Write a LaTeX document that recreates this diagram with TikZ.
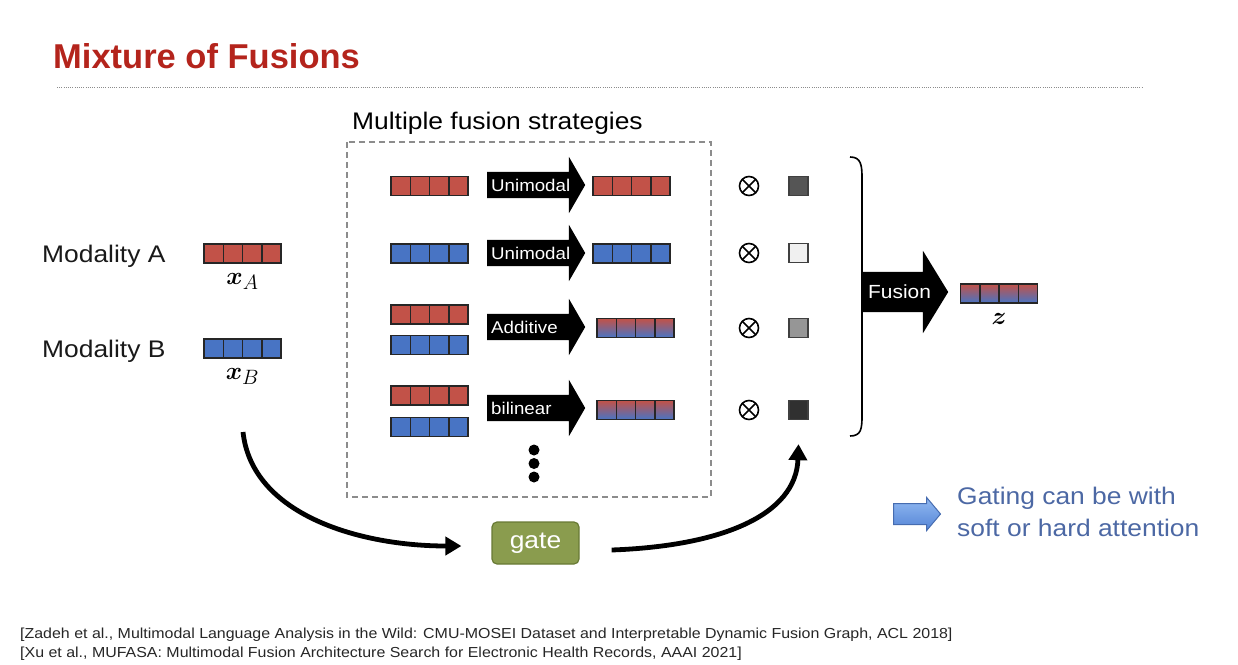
\documentclass[tikz,border=0pt]{standalone}
\usepackage{amsmath}
\usepackage{fontspec}
\setmainfont{Liberation Sans}[FakeStretch=1.1]
\newfontfamily\titlefont{Liberation Sans}
\usetikzlibrary{positioning}
\usetikzlibrary{shapes.arrows}
\usetikzlibrary{arrows.meta}
\tikzset{>=latex}

\definecolor{titlered}{RGB}{180,36,28}
\definecolor{cellred}{RGB}{194,82,72}
\definecolor{cellblue}{RGB}{72,116,196}
\definecolor{wone}{RGB}{85,85,85}
\definecolor{wtwo}{RGB}{240,240,240}
\definecolor{wthree}{RGB}{150,150,150}
\definecolor{wfour}{RGB}{48,48,48}
\definecolor{gatefill}{RGB}{138,156,78}
\definecolor{gateedge}{RGB}{104,122,52}
\definecolor{hintblue}{RGB}{76,104,164}
\definecolor{hintlight}{RGB}{146,186,242}
\definecolor{hintdark}{RGB}{84,132,214}
\definecolor{hintedge}{RGB}{70,108,176}

\tikzset{%
  % a vector of four cells
  vec/.style={draw=black!85, line width=1.5pt, minimum width=77pt, minimum height=19pt, inner sep=0pt,
    path picture={\foreach \k in {1,2,3}
      \draw[black!85, line width=1.5pt] ([xshift=\k*19.25pt]path picture bounding box.south west) -- ([xshift=\k*19.25pt]path picture bounding box.north west);}},
  redvec/.style={vec, fill=cellred},
  bluevec/.style={vec, fill=cellblue},
  mixvec/.style={vec, top color=cellred, bottom color=cellblue},
  veclabel/.style={inner sep=0pt, font=\fontsize{28}{30}\selectfont},
  modtext/.style={anchor=base west, inner sep=0pt, text=black!90, font=\fontsize{24}{28}\selectfont},
  % the black fusion arrows
  bigarrow/.style={single arrow, fill=black, inner xsep=0pt, inner ysep=13pt, minimum height=98pt,
    single arrow head extend=15pt, single arrow tip angle=120, anchor=tail},
  arrowtext/.style={anchor=west, inner sep=0pt, text=white, font=\fontsize{17}{19}\selectfont},
  otimes/.style={circle, draw=black, line width=1.6pt, minimum size=19pt, inner sep=0pt,
    path picture={\draw[line width=1.6pt] (path picture bounding box.north west) -- (path picture bounding box.south east)
      (path picture bounding box.north east) -- (path picture bounding box.south west);}},
  gatesq/.style={draw=black!75, line width=1.3pt, minimum size=19pt, inner sep=0pt},
  gatebox/.style={rounded corners=5pt, fill=gatefill, draw=gateedge, line width=1.2pt, text=white,
    minimum width=87pt, minimum height=42pt, inner sep=0pt, font=\fontsize{24}{26}\selectfont},
  curvearrow/.style={line width=4.8pt, -{Triangle[length=16pt,width=18pt]}},
  hintarrow/.style={single arrow, draw=hintedge, line width=1pt, top color=hintlight, bottom color=hintdark,
    inner xsep=0pt, inner ysep=10pt, minimum height=47pt, single arrow head extend=6pt,
    single arrow tip angle=100, anchor=tail},
  reftext/.style={anchor=base west, inner sep=0pt, text=black!85, font=\fontsize{14.5}{16}\selectfont},
}

\begin{document}
\begin{tikzpicture}[x=1pt, y=-1pt]
  \useasboundingbox (0,0) rectangle (1238,664);

  % title and dotted rule
  \node[anchor=base west, inner sep=0pt, text=titlered, font=\titlefont\bfseries\fontsize{34.5}{40}\selectfont] (title) at (53,68) {Mixture of Fusions};
  \coordinate (ruleL) at (57,87);
  \coordinate (ruleR) at (1143,87);
  \draw[black!45, line width=0.8pt, dash pattern=on 1pt off 1.2pt] (ruleL) -- (ruleR);

  % the two modalities
  \node[modtext] (moda) at (42,262) {Modality A};
  \node[modtext] (modb) at (42,357) {Modality B};
  \node[redvec] (xa) at (242.5,253.5) {};
  \node[bluevec] (xb) at (242.5,348.5) {};
  \node[veclabel, below=9pt of xa] (la) {$\boldsymbol{x}_A$};
  \node[veclabel, below=9pt of xb] (lb) {$\boldsymbol{x}_B$};

  % dashed box of strategies
  \node[anchor=base west, inner sep=0pt, font=\fontsize{24}{26}\selectfont] (strat) at (352,129) {Multiple fusion strategies};
  \draw[black!45, line width=1.5pt, dash pattern=on 6pt off 4pt] (347,142) rectangle (711,497);

  % unimodal A
  \node[redvec] (in1) at (429.5,186) {};
  \node[bigarrow] (f1) at (487,185) {};
  \node[arrowtext] (t1) at ([xshift=4pt]f1.tail) {Unimodal};
  \node[redvec] (out1) at (631.5,186) {};

  % unimodal B
  \node[bluevec] (in2) at (429.5,253.5) {};
  \node[bigarrow] (f2) at (487,253) {};
  \node[arrowtext] (t2) at ([xshift=4pt]f2.tail) {Unimodal};
  \node[bluevec] (out2) at (631.5,253.5) {};

  % additive
  \node[redvec] (in3a) at (429.5,314.5) {};
  \node[bluevec] (in3b) at (429.5,345) {};
  \node[bigarrow] (f3) at (487,327) {};
  \node[arrowtext] (t3) at ([xshift=4pt]f3.tail) {Additive};
  \node[mixvec] (out3) at (635.5,328) {};

  % bilinear
  \node[redvec] (in4a) at (429.5,395.5) {};
  \node[bluevec] (in4b) at (429.5,427) {};
  \node[bigarrow] (f4) at (487,408) {};
  \node[arrowtext] (t4) at ([xshift=4pt]f4.tail) {bilinear};
  \node[mixvec] (out4) at (635.5,410) {};

  % more strategies
  \foreach \y in {450,463.5,477}
    \fill (534,\y) circle (5.5pt);

  % weights from the gate
  \foreach \y/\c [count=\i] in {186/wone, 253/wtwo, 328/wthree, 410/wfour} {
    \node[otimes] (ot\i) at (749,\y) {};
    \node[gatesq, fill=\c] (w\i) at (798.5,\y) {};
  }

  % bracket round the weighted outputs
  \draw[line width=1.6pt] (850,157) .. controls (861,157) and (862,165) .. (862,178) -- (862,416)
    .. controls (862,429) and (861,436) .. (850,436);

  % final fusion
  \node[bigarrow, inner ysep=20pt, minimum height=86pt, single arrow head extend=21pt, single arrow tip angle=117] (fz) at (862,292) {};
  \node[arrowtext, font=\fontsize{19}{21}\selectfont] (tz) at ([xshift=6pt]fz.tail) {Fusion};
  \node[mixvec] (z) at (999,293.5) {};
  \node[veclabel, below=9pt of z] (lz) {$\boldsymbol{z}$};

  % gate and its arrows
  \node[gatebox] (gate) at (535.5,543) {gate};
  \coordinate (gin) at (243,432);
  \draw[curvearrow] (gin) .. controls (252,515) and (360,546) .. ([xshift=-30pt,yshift=-3pt]gate.west);
  \draw[curvearrow] ([xshift=32pt,yshift=-7pt]gate.east) .. controls (722,546) and (796,515) .. ([yshift=-24pt]w4.south);

  % note on gating
  \node[hintarrow] (hint) at (893,514) {};
  \node[anchor=north west, inner sep=0pt, align=left, text=hintblue, font=\fontsize{24}{32}\selectfont] (gating) at (957,487) {Gating can be with\\soft or hard attention};

  % references
  \node[reftext] (ref1) at (20,638) {[Zadeh et al., Multimodal Language Analysis in the Wild: CMU-MOSEI Dataset and Interpretable Dynamic Fusion Graph, ACL 2018]};
  \node[reftext] (ref2) at (20,657) {[Xu et al., MUFASA: Multimodal Fusion Architecture Search for Electronic Health Records, AAAI 2021]};

\end{tikzpicture}
\end{document}
